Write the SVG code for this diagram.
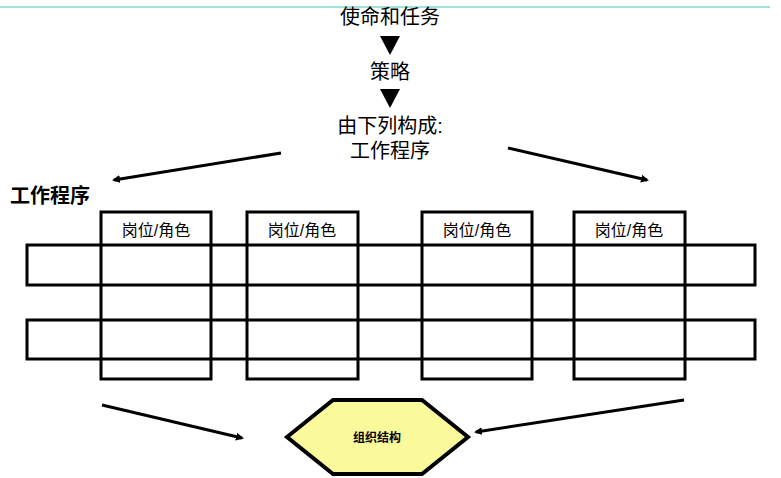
<svg xmlns="http://www.w3.org/2000/svg" width="781" height="478" viewBox="0 0 781 478">
<style>
text{font-family:"Liberation Sans","Noto Sans CJK SC",sans-serif;fill:#000}
.t{font-size:20px;text-anchor:middle}
.c{font-size:16px;text-anchor:middle}
.box{fill:none;stroke:#000;stroke-width:3}
.ln{stroke:#000;stroke-width:3;marker-end:url(#a)}
</style>
<defs><marker id="a" markerWidth="8" markerHeight="8" refX="6" refY="4" orient="auto" markerUnits="userSpaceOnUse" viewBox="0 0 8 8"><path d="M0,0 L8,4 L0,8 Z" fill="#000"/></marker></defs>
<rect width="781" height="478" fill="#fff"/>
<line x1="0" y1="7" x2="770" y2="7" stroke="#7fd8d0" stroke-width="1.5"/>
<g id="mission"><text class="t" x="390" y="24">使命和任务</text></g>
<g id="strategy"><text class="t" x="390" y="79">策略</text></g>
<g id="compose"><text class="t" x="390" y="133">由下列构成:</text><text class="t" x="390" y="158">工作程序</text></g>
<g id="proc-label"><text x="10" y="203" style="font-size:20px;font-weight:bold">工作程序</text></g>
<g id="grid">
<rect class="box" x="101" y="212" width="110" height="167"/>
<rect class="box" x="247" y="212" width="111" height="167"/>
<rect class="box" x="422" y="212" width="110" height="167"/>
<rect class="box" x="574" y="212" width="111" height="167"/>
<rect class="box" x="27" y="245" width="728" height="40"/>
<rect class="box" x="27" y="320" width="728" height="39"/>
<text class="c" x="156" y="236">岗位/角色</text>
<text class="c" x="302" y="236">岗位/角色</text>
<text class="c" x="477" y="236">岗位/角色</text>
<text class="c" x="629" y="236">岗位/角色</text>
</g>
<g id="org"><polygon points="287,437 333,400 422,400 468,437 422,474 333,474" fill="#fafa9c" stroke="#000" stroke-width="4"/><text x="377" y="442" style="font-size:12px;font-weight:bold;text-anchor:middle">组织结构</text></g>
<g id="connectors">
<path d="M380,36 L400,36 L390,55 Z" fill="#000"/>
<path d="M380,89 L400,89 L390,108 Z" fill="#000"/>
<line class="ln" x1="281" y1="153" x2="114" y2="180"/>
<line class="ln" x1="508" y1="148" x2="647" y2="180"/>
<line class="ln" x1="102" y1="405" x2="242" y2="438"/>
<line class="ln" x1="684" y1="400" x2="476" y2="432"/>
</g>
</svg>
